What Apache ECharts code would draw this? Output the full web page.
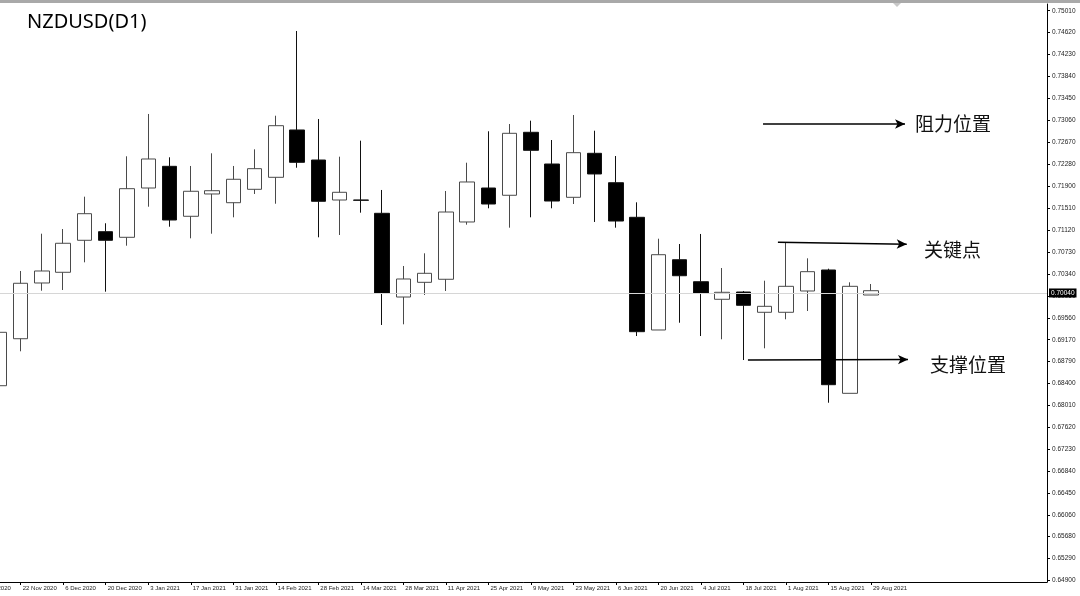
<!DOCTYPE html>
<html>
<head>
<meta charset="utf-8">
<script src="https://cdn.jsdelivr.net/npm/echarts@6/dist/echarts.min.js"></script>
<style>
html,body{margin:0;padding:0;background:#fff;}
#chart{width:1080px;height:596px;}
</style>
</head>
<body>
<div id="chart"></div>
<script>
// Weekly candles (index 0 = week of 15 Nov 2020)
const weeks = ['15 Nov 2020','22 Nov 2020','29 Nov 2020','6 Dec 2020','13 Dec 2020','20 Dec 2020','27 Dec 2020',
  '3 Jan 2021','10 Jan 2021','17 Jan 2021','24 Jan 2021','31 Jan 2021','7 Feb 2021','14 Feb 2021','21 Feb 2021',
  '28 Feb 2021','7 Mar 2021','14 Mar 2021','21 Mar 2021','28 Mar 2021','4 Apr 2021','11 Apr 2021','18 Apr 2021',
  '25 Apr 2021','2 May 2021','9 May 2021','16 May 2021','23 May 2021','30 May 2021','6 Jun 2021','13 Jun 2021',
  '20 Jun 2021','27 Jun 2021','4 Jul 2021','11 Jul 2021','18 Jul 2021','25 Jul 2021','1 Aug 2021','8 Aug 2021',
  '15 Aug 2021','22 Aug 2021','29 Aug 2021'];
const opens  = [0.68354,0.69188,0.70177,0.70367,0.70935,0.71088,0.70988,0.71863,0.72248,0.71361,0.71757,0.71602,0.71840,0.72053,
  0.72893,0.72360,0.71650,0.71650,0.71414,0.69928,0.70189,0.70243,0.71260,0.71863,0.71734,0.72852,0.72289,0.71698,
  0.72479,0.71957,0.71343,0.69343,0.70590,0.70200,0.69888,0.70017,0.69657,0.69657,0.70035,0.70408,0.68219,0.69964];
const closes = [0.69302,0.70172,0.70390,0.70882,0.71407,0.70935,0.71851,0.72378,0.71295,0.71805,0.71815,0.72018,0.72206,0.72969,
  0.72319,0.71627,0.71787,0.71645,0.69994,0.70248,0.70349,0.71437,0.71970,0.71579,0.72834,0.72532,0.71632,0.72490,
  0.72112,0.71277,0.69313,0.70679,0.70306,0.69994,0.70012,0.69781,0.69763,0.70118,0.70378,0.68372,0.70118,0.70040];
const lows   = [0.68349,0.68965,0.70040,0.70053,0.70544,0.70023,0.70839,0.71531,0.71176,0.70970,0.71052,0.71343,0.71757,0.71584,
  0.72223,0.70988,0.71029,0.71425,0.69432,0.69444,0.69964,0.70035,0.71212,0.71503,0.71159,0.71343,0.71503,0.71579,
  0.71260,0.71159,0.69236,0.69343,0.69472,0.69236,0.69178,0.68810,0.69018,0.69533,0.69680,0.68052,0.68219,0.69964];
const highs  = [0.69361,0.70390,0.71052,0.71135,0.71709,0.71237,0.72426,0.73177,0.72408,0.72254,0.72479,0.72254,0.72550,0.73146,
  0.74650,0.73088,0.72419,0.72703,0.71828,0.70479,0.70704,0.71810,0.72312,0.72870,0.72999,0.73058,0.72715,0.73159,
  0.72880,0.72431,0.71609,0.70963,0.70869,0.71047,0.70443,0.70035,0.70218,0.70892,0.70615,0.70431,0.70189,0.70159];

// Axis tick labels
const xTickPos = [-1,1,3,5,7,9,11,13,15,17,19,21,23,25,27,29,31,33,35,37,39,41];
const xTickLabels = ['8 Nov 2020','22 Nov 2020','6 Dec 2020','20 Dec 2020','3 Jan 2021','17 Jan 2021','31 Jan 2021',
  '14 Feb 2021','28 Feb 2021','14 Mar 2021','28 Mar 2021','11 Apr 2021','25 Apr 2021','9 May 2021','23 May 2021',
  '6 Jun 2021','20 Jun 2021','4 Jul 2021','18 Jul 2021','1 Aug 2021','15 Aug 2021','29 Aug 2021'];
const yTicks = [0.75010,0.74620,0.74230,0.73840,0.73450,0.73060,0.72670,0.72280,0.71900,0.71510,0.71120,0.70730,0.70340,
  0.69950,0.69560,0.69170,0.68790,0.68400,0.68010,0.67620,0.67230,0.66840,0.66450,0.66060,0.65680,0.65290,0.64900];

// Annotation levels (data space)
const resistanceLevel = 0.72999;
const keyLevelFrom = [36.62, 0.70899], keyLevelTo = [42.68, 0.70866];
const supportFrom = [35.21, 0.68810], supportTo = [42.74, 0.68819];
const resistanceRange = [35.92, 42.6];

const lastPrice = closes[closes.length - 1];
const xMin = -1.3854, xMax = 49.278;
const yMin = 0.6487, yMax = 0.75129;

const candleData = weeks.map((w, i) => [i, opens[i], closes[i], lows[i], highs[i]]);

const chart = echarts.init(document.getElementById('chart'), null, {renderer: 'canvas'});
const option = {
  animation: false,
  backgroundColor: '#ffffff',
  grid: {left: -30, right: 33, top: 4, bottom: 14, containLabel: false, outerBoundsMode: 'none'},
  xAxis: {
    type: 'value', min: xMin, max: xMax,
    axisLine: {show: true, onZero: false, lineStyle: {color: '#000', width: 1}},
    axisTick: {show: true, length: 3, customValues: xTickPos, lineStyle: {color: '#000'}},
    axisLabel: {
      customValues: xTickPos, fontSize: 6, color: '#222', align: 'left', margin: 3,
      fontFamily: 'Liberation Sans', padding: [0, 0, 0, 2],
      formatter: function (v) { const k = xTickPos.indexOf(Math.round(v)); return k >= 0 ? xTickLabels[k] : ''; }
    },
    splitLine: {show: false}
  },
  yAxis: {
    type: 'value', position: 'right', min: yMin, max: yMax,
    axisLine: {show: true, onZero: false, lineStyle: {color: '#000', width: 1}},
    axisTick: {show: true, length: 3, customValues: yTicks, lineStyle: {color: '#000'}},
    axisLabel: {
      customValues: yTicks, fontSize: 6.5, color: '#222', margin: 5, fontFamily: 'Liberation Sans',
      formatter: function (v) { return v.toFixed(5); }
    },
    splitLine: {show: false}
  },
  series: [
    {
      type: 'candlestick',
      data: candleData,
      encode: {x: 0, y: [1, 2, 3, 4]},
      barWidth: 15,
      itemStyle: {color: '#ffffff', color0: '#000000', borderColor: '#4a4a4a', borderColor0: '#111111', borderWidth: 1},
      markLine: {
        silent: true, symbol: 'none', animation: false,
        lineStyle: {color: '#d6d6d6', type: 'solid', width: 1},
        label: {
          show: true, position: 'end', distance: 2, formatter: lastPrice.toFixed(5),
          backgroundColor: '#000', color: '#fff', fontSize: 6.5, fontFamily: 'Liberation Sans', padding: [1, 2, 1, 2]
        },
        data: [{yAxis: lastPrice}]
      },
      z: 3
    },
    {
      type: 'line', data: [], silent: true,
      markLine: {
        silent: true, animation: false,
        symbol: ['none', 'arrow'], symbolSize: [7, 10],
        lineStyle: {color: '#000', type: 'solid', width: 1.5},
        label: {show: false},
        data: [
          [{coord: [resistanceRange[0], resistanceLevel]}, {coord: [resistanceRange[1], resistanceLevel]}],
          [{coord: keyLevelFrom}, {coord: keyLevelTo}],
          [{coord: supportFrom}, {coord: supportTo}]
        ]
      },
      z: 4
    }
  ],
  graphic: [
    {type: 'rect', shape: {x: 0, y: 0, width: 1080, height: 3}, style: {fill: '#a9a9a9'}, z: 100},
    {type: 'polygon', shape: {points: [[893, 3], [901, 3], [897, 7]]}, style: {fill: '#c8c8c8'}, z: 100},
    {type: 'text', x: 27, y: 22.5, style: {text: 'NZDUSD(D1)', font: '20px "Noto Sans"', fill: '#000', align: 'left', verticalAlign: 'middle'}, z: 100},
    {type: 'text', x: 915, y: 124, style: {text: '阻力位置', font: '19px "Noto Sans CJK SC"', fill: '#111', align: 'left', verticalAlign: 'middle'}, z: 100},
    {type: 'text', x: 924, y: 250, style: {text: '关键点', font: '19px "Noto Sans CJK SC"', fill: '#111', align: 'left', verticalAlign: 'middle'}, z: 100},
    {type: 'text', x: 930, y: 365, style: {text: '支撑位置', font: '19px "Noto Sans CJK SC"', fill: '#111', align: 'left', verticalAlign: 'middle'}, z: 100}
  ]
};
chart.setOption(option);
</script>
</body>
</html>
